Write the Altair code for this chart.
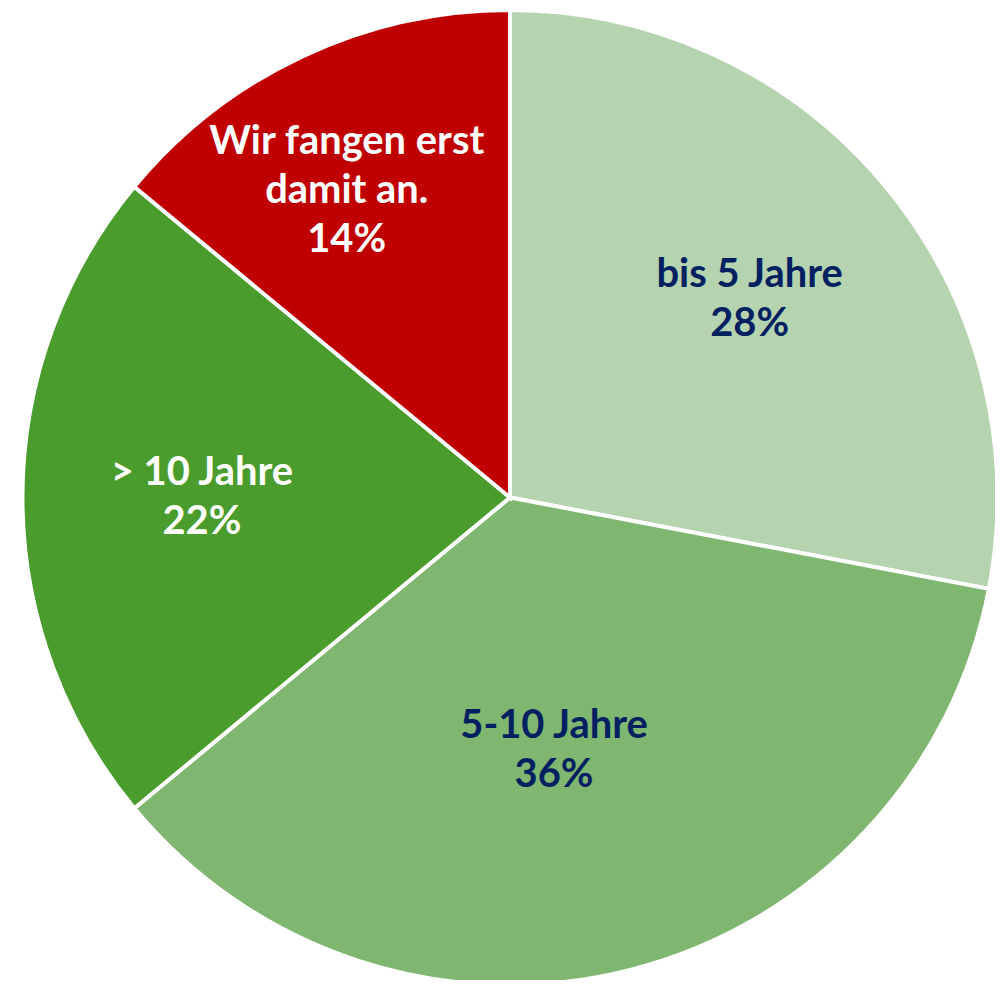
import altair as alt
import pandas as pd

# Data
categories = ["bis 5 Jahre", "5-10 Jahre", "> 10 Jahre", "Wir fangen erst\ndamit an."]
values = [28, 36, 22, 14]
slice_colors = ["#B5D3AF", "#7FB770", "#4A9C2D", "#C00000"]
text_colors = ["#002060", "#002060", "#FFFFFF", "#FFFFFF"]
label_radii = [312, 262, 309, 340]
label_nudge_x = [0, -21, 0, -19]

df = pd.DataFrame({
    "idx": list(range(len(categories))),
    "Kategorie": categories,
    "Wert": values,
})

CX, CY, R = 503.5, 489.5, 489
FONT = "Lato"
LH = 49

base = alt.Chart(df).transform_window(
    cum="sum(Wert)", sort=[alt.SortField("idx")], frame=[None, 0]
).transform_calculate(
    start="datum.cum - datum.Wert",
    mid="datum.cum - datum.Wert / 2",
    lbl="datum.Kategorie + '\\n' + datum.Wert + '%'",
)

theta_scale = alt.Scale(domain=[0, 100])

arcs = base.mark_arc(radius=R, stroke="white", strokeWidth=4).encode(
    theta=alt.Theta("start:Q", scale=theta_scale),
    theta2="cum:Q",
    color=alt.Color("Kategorie:N", scale=alt.Scale(domain=categories, range=slice_colors), legend=None),
    x=alt.value(CX),
    y=alt.value(CY),
)

layers = [arcs]
for i in range(len(categories)):
    n_lines = categories[i].count("\n") + 2
    t = base.transform_filter(alt.datum.idx == i).mark_text(
        radius=label_radii[i],
        color=text_colors[i],
        font=FONT,
        fontSize=40,
        fontWeight="bold",
        lineBreak="\n",
        lineHeight=LH,
        align="center",
        baseline="middle",
        dx=label_nudge_x[i],
        dy=-LH * (n_lines - 1) / 2,
    ).encode(
        theta=alt.Theta("mid:Q", scale=theta_scale),
        text="lbl:N",
        x=alt.value(CX),
        y=alt.value(CY),
    )
    layers.append(t)

chart = alt.layer(*layers).properties(
    width=990,
    height=972,
    padding=0,
    autosize=alt.AutoSizeParams(type="none"),
).configure_view(stroke=None)

chart.save("out.html", embed_options={"renderer": "svg", "actions": False})
